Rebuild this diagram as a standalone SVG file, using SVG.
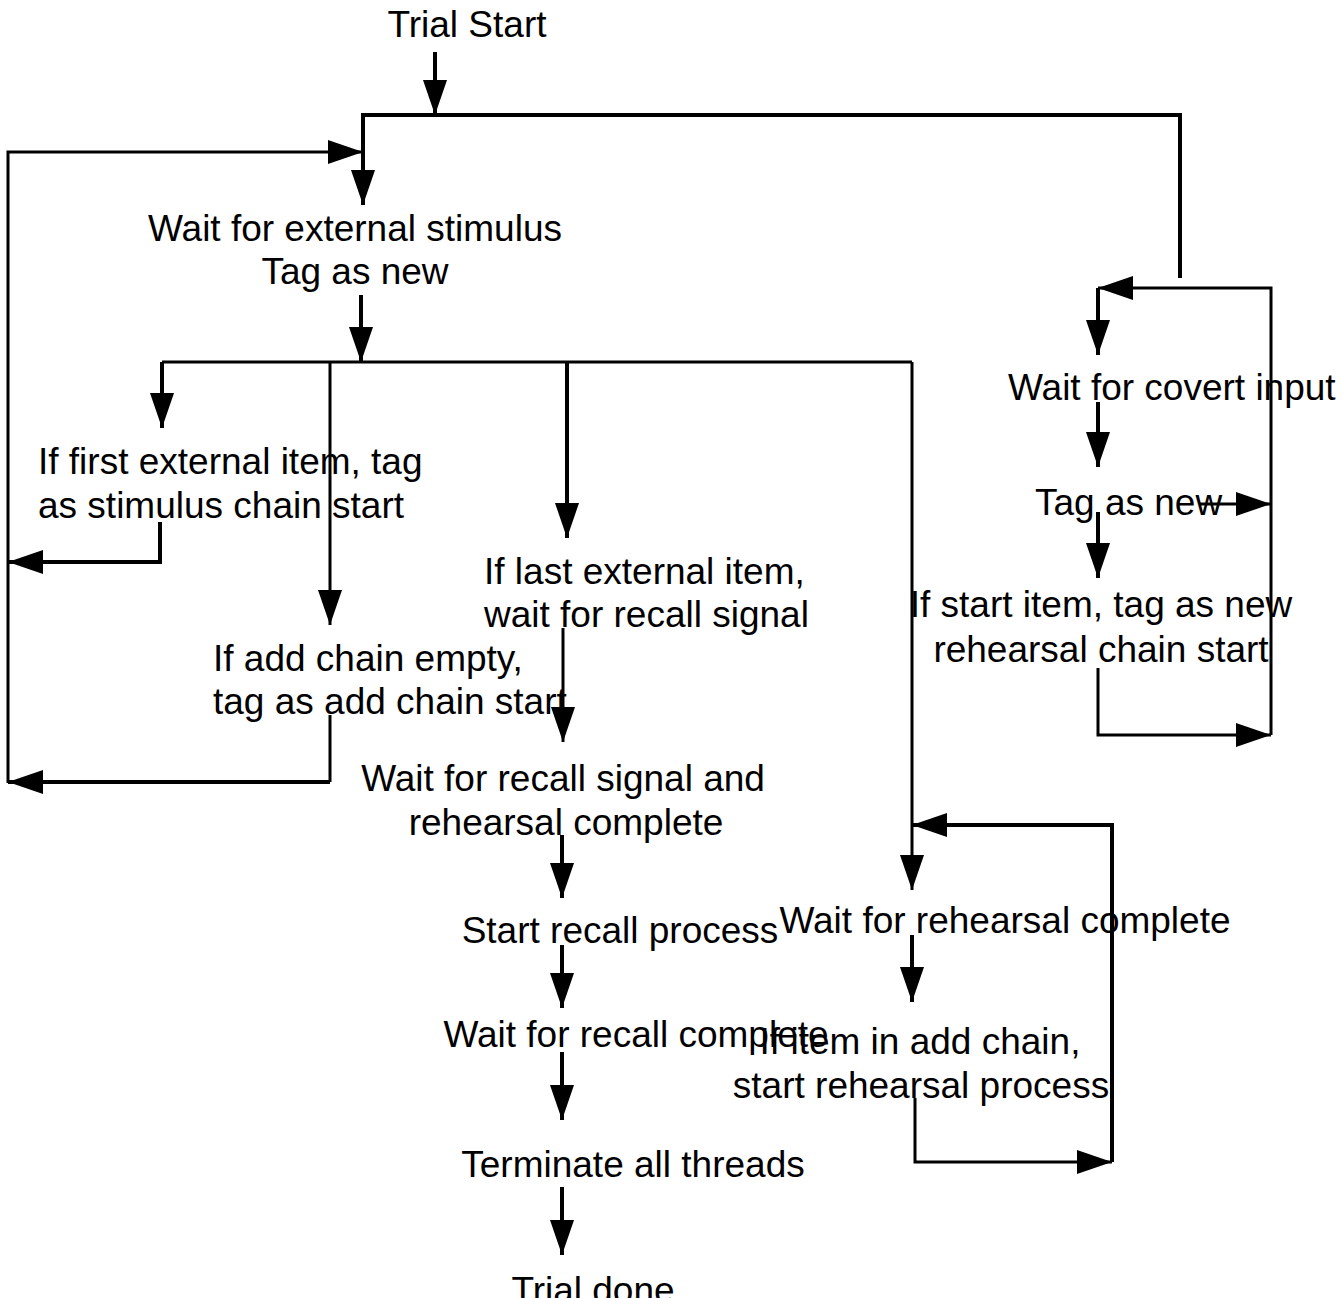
<svg xmlns="http://www.w3.org/2000/svg" width="1342" height="1298" viewBox="0 0 1342 1298">
<style>
text{font-family:"Liberation Sans",Arial,sans-serif;font-size:37px;fill:#000}
.m{text-anchor:middle}
.c path{fill:none;stroke:#000;stroke-width:4;stroke-linejoin:miter}
.c path.t{stroke-width:3}
</style>
<defs>
<marker id="ah" markerUnits="userSpaceOnUse" markerWidth="40" markerHeight="28" refX="35" refY="12" orient="auto">
<path d="M0,0 L35,12 L0,24 Z" fill="#000"/>
</marker>
</defs>
<rect width="1342" height="1298" fill="#fff"/>
<g class="c" id="connectors">
<path d="M435,52 V115" marker-end="url(#ah)"/>
<path d="M1180,278 V115 H363 V205" marker-end="url(#ah)"/>
<path class="t" d="M8,783 V152 H363" marker-end="url(#ah)"/>
<path d="M361,295 V362" marker-end="url(#ah)"/>
<path class="t" d="M162,362 H912"/>
<path d="M162,362 V428" marker-end="url(#ah)"/>
<path class="t" d="M330,362 V625" marker-end="url(#ah)"/>
<path d="M567,362 V538" marker-end="url(#ah)"/>
<path class="t" d="M912,362 V890" marker-end="url(#ah)"/>
<path d="M160,522 V562 H8" marker-end="url(#ah)"/>
<path class="t" d="M330,715 V782"/>
<path d="M330,782 H8" marker-end="url(#ah)"/>
<path class="t" d="M563,628 V742" marker-end="url(#ah)"/>
<path d="M562,835 V898" marker-end="url(#ah)"/>
<path d="M562,945 V1008" marker-end="url(#ah)"/>
<path d="M562,1052 V1120" marker-end="url(#ah)"/>
<path d="M562,1187 V1255" marker-end="url(#ah)"/>
<path class="t" d="M1271,735 V288 H1098" marker-end="url(#ah)"/>
<path d="M1098,288 V355" marker-end="url(#ah)"/>
<path d="M1098,402 V467" marker-end="url(#ah)"/>
<path class="t" d="M1200,504 H1271" marker-end="url(#ah)"/>
<path d="M1098,512 V578" marker-end="url(#ah)"/>
<path class="t" d="M1098,668 V735 H1271" marker-end="url(#ah)"/>
<path d="M1112,1162 V825 H912" marker-end="url(#ah)"/>
<path d="M912,935 V1002" marker-end="url(#ah)"/>
<path class="t" d="M915,1098 V1162 H1112" marker-end="url(#ah)"/>
</g>
<g id="n-trial-start"><text class="m" x="467" y="37">Trial Start</text></g>
<g id="n-wait-external"><text class="m" x="355" y="241">Wait for external stimulus</text><text class="m" x="355" y="284">Tag as new</text></g>
<g id="n-first-item"><text x="38" y="474">If first external item, tag</text><text x="38" y="518">as stimulus chain start</text></g>
<g id="n-last-item"><text x="484" y="584">If last external item,</text><text x="484" y="627">wait for recall signal</text></g>
<g id="n-add-chain"><text x="213" y="671">If add chain empty,</text><text x="213" y="714">tag as add chain start</text></g>
<g id="n-wait-recall-signal"><text class="m" x="563" y="791">Wait for recall signal and</text><text class="m" x="566" y="835">rehearsal complete</text></g>
<g id="n-start-recall"><text class="m" x="620" y="943">Start recall process</text></g>
<g id="n-wait-recall-complete"><text class="m" x="636" y="1047">Wait for recall complete</text></g>
<g id="n-terminate"><text class="m" x="633" y="1177">Terminate all threads</text></g>
<g id="n-trial-done"><text class="m" x="593" y="1303">Trial done</text></g>
<g id="n-wait-covert"><text x="1008" y="400">Wait for covert input</text></g>
<g id="n-tag-new"><text x="1035" y="515">Tag as new</text></g>
<g id="n-start-item"><text class="m" x="1101" y="617">If start item, tag as new</text><text class="m" x="1101" y="662">rehearsal chain start</text></g>
<g id="n-wait-rehearsal"><text class="m" x="1005" y="933">Wait for rehearsal complete</text></g>
<g id="n-item-add"><text class="m" x="920" y="1054">If item in add chain,</text><text class="m" x="921" y="1098">start rehearsal process</text></g>
</svg>
